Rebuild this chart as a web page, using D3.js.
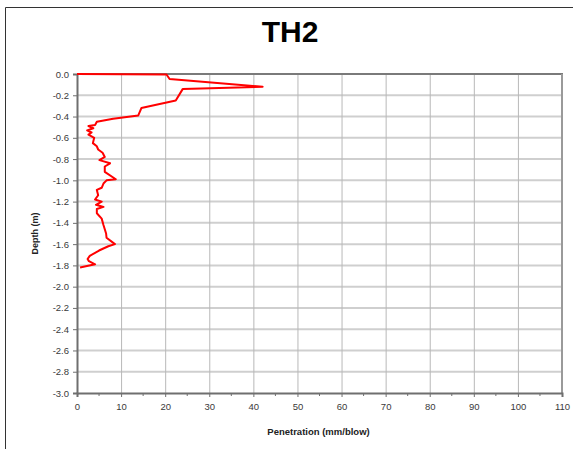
<!DOCTYPE html>
<html>
<head>
<meta charset="utf-8">
<script src="https://cdn.jsdelivr.net/npm/d3@7"></script>
<style>
  html, body { margin: 0; padding: 0; background: #fff; }
  svg { display: block; font-family: Arial, "Liberation Sans", sans-serif; }
</style>
</head>
<body>
<svg id="chart" width="576" height="449"></svg>
<script>
// DCP test TH2: penetration rate (mm/blow) against depth (m, negative downward)
const depth = [0.00, 0.005, 0.047, 0.12, 0.14, 0.25, 0.32, 0.39, 0.42, 0.45,
  0.48, 0.49, 0.51, 0.53, 0.55, 0.57, 0.60, 0.65, 0.68, 0.71,
  0.74, 0.78, 0.81, 0.84, 0.87, 0.92, 0.99, 1.00, 1.03, 1.07,
  1.09, 1.14, 1.18, 1.20, 1.23, 1.25, 1.27, 1.31, 1.36, 1.42,
  1.50, 1.54, 1.60, 1.62, 1.66, 1.71, 1.74, 1.76, 1.79, 1.82];
const penetration = [0.0, 20.3, 21.0, 42.1, 24.0, 22.4, 14.6, 13.9, 8.2, 4.5,
  4.1, 2.6, 3.7, 2.3, 3.3, 2.6, 3.9, 3.6, 4.5, 4.8,
  5.8, 6.3, 5.1, 7.5, 6.3, 6.3, 8.8, 6.7, 6.0, 5.6,
  4.5, 4.8, 4.1, 5.6, 4.3, 6.0, 4.5, 4.5, 5.6, 6.0,
  6.6, 6.7, 8.6, 7.1, 5.0, 2.9, 2.4, 2.7, 4.1, 0.7];

const xTicks = [0, 10, 20, 30, 40, 50, 60, 70, 80, 90, 100, 110];
const yTicks = [0.0, -0.2, -0.4, -0.6, -0.8, -1.0, -1.2, -1.4, -1.6, -1.8,
  -2.0, -2.2, -2.4, -2.6, -2.8, -3.0];
const chartTitle = "TH2";
const xTitle = "Penetration (mm/blow)";
const yTitle = "Depth (m)";

const svg = d3.select("#chart");
const plotL = 77, plotR = 562, plotT = 74, plotB = 393;

const x = d3.scaleLinear().domain([0, 110]).range([plotL, plotR]);
const y = d3.scaleLinear().domain([0, -3.0]).range([plotT, plotB]);

// outer frame (top and left edges)
svg.append("path")
  .attr("d", `M5.5,449 L5.5,7.5 L573,7.5`)
  .attr("fill", "none").attr("stroke", "#333").attr("stroke-width", 1);

// title
svg.append("text")
  .attr("x", 290).attr("y", 42)
  .attr("text-anchor", "middle")
  .attr("font-size", 30).attr("font-weight", "bold")
  .attr("fill", "#000")
  .text(chartTitle);

// horizontal gridlines
svg.append("g").selectAll("line")
  .data(yTicks.slice(1, -1))
  .join("line")
  .attr("x1", plotL).attr("x2", plotR)
  .attr("y1", d => y(d)).attr("y2", d => y(d))
  .attr("stroke", "#cfcfcf").attr("stroke-width", 2);

// vertical gridlines
svg.append("g").selectAll("line")
  .data(xTicks.slice(1, -1))
  .join("line")
  .attr("x1", d => x(d) + 0.5).attr("x2", d => x(d) + 0.5)
  .attr("y1", plotT).attr("y2", plotB)
  .attr("stroke", "#b8b8b8").attr("stroke-width", 1);

// plot frame: top and right edges
svg.append("line")
  .attr("x1", plotL).attr("x2", plotR + 1)
  .attr("y1", plotT).attr("y2", plotT)
  .attr("stroke", "#7a7a7a").attr("stroke-width", 2);
svg.append("line")
  .attr("x1", plotR).attr("x2", plotR)
  .attr("y1", plotT).attr("y2", plotB)
  .attr("stroke", "#9a9a9a").attr("stroke-width", 2);

// x axis
const xAxis = d3.axisBottom(x)
  .tickValues(xTicks)
  .tickFormat(d3.format("d"))
  .tickSize(4).tickPadding(6);
const gx = svg.append("g")
  .attr("transform", `translate(0,${plotB})`)
  .call(xAxis);
gx.select(".domain").attr("stroke", "#6f6f6f").attr("stroke-width", 2);
gx.selectAll(".tick line").attr("stroke", "#6f6f6f");
gx.selectAll(".tick text").attr("font-size", 9.5).attr("fill", "#3a3a3a")
  .attr("font-family", "Arial, 'Liberation Sans', sans-serif");

// x minor ticks at the midpoints
svg.append("g").selectAll("line")
  .data(d3.range(5, 110, 10))
  .join("line")
  .attr("x1", d => x(d)).attr("x2", d => x(d))
  .attr("y1", plotB).attr("y2", plotB + 3)
  .attr("stroke", "#6f6f6f");

// y axis
const yAxis = d3.axisLeft(y)
  .tickValues(yTicks)
  .tickFormat(d => d3.format(".1f")(d).replace("−", "-"))
  .tickSize(4).tickPadding(4);
const gy = svg.append("g")
  .attr("transform", `translate(${plotL},0)`)
  .call(yAxis);
gy.select(".domain").attr("stroke", "#6f6f6f").attr("stroke-width", 2);
gy.selectAll(".tick line").attr("stroke", "#6f6f6f");
gy.selectAll(".tick text").attr("font-size", 9.5).attr("fill", "#3a3a3a")
  .attr("font-family", "Arial, 'Liberation Sans', sans-serif");

// axis titles
svg.append("text")
  .attr("x", 318.5).attr("y", 435)
  .attr("text-anchor", "middle")
  .attr("font-size", 9.5).attr("font-weight", "bold")
  .attr("fill", "#222")
  .text(xTitle);

svg.append("text")
  .attr("transform", `translate(38,${(plotT + plotB) / 2}) rotate(-90)`)
  .attr("text-anchor", "middle")
  .attr("font-size", 9).attr("font-weight", "bold")
  .attr("fill", "#222")
  .text(yTitle);

// penetration trace
const pts = depth.map((d, i) => [penetration[i], -d]);
svg.append("path")
  .datum(pts)
  .attr("fill", "none")
  .attr("stroke", "#ff0000")
  .attr("stroke-width", 2)
  .attr("stroke-linejoin", "round")
  .attr("d", d3.line().x(p => x(p[0])).y(p => y(p[1])));
</script>
</body>
</html>
